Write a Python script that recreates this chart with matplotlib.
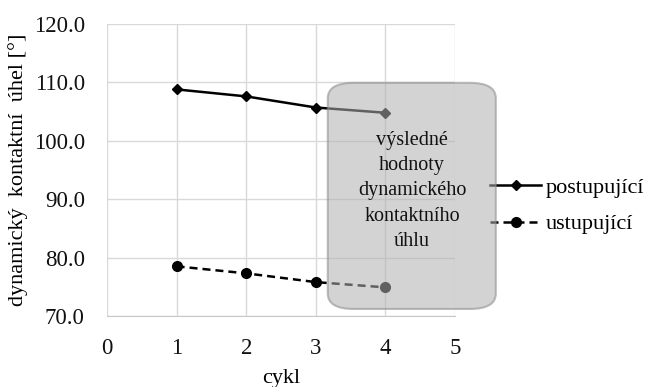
import matplotlib.pyplot as plt
from matplotlib.patches import FancyBboxPatch

plt.rcParams['font.family'] = ['Liberation Serif', 'DejaVu Serif']

cykl = [1, 2, 3, 4]
postupujici = [108.8, 107.6, 105.7, 104.8]
ustupujici = [78.5, 77.3, 75.8, 74.9]
x_ticks = [0, 1, 2, 3, 4, 5]
y_ticks = [70, 80, 90, 100, 110, 120]
popisek = "výsledné\nhodnoty\ndynamického\nkontaktního\núhlu"

fig = plt.figure(figsize=(6.49, 3.87), dpi=100)
ax = fig.add_axes([0.1649, 0.1835, 0.5362, 0.7545])

ax.plot(cykl, postupujici, color='black', lw=1.8, marker='D', markersize=5.5,
        label='postupující')
ax.plot(cykl, ustupujici, color='black', lw=1.8, dashes=(3.2, 2), marker='o',
        markersize=7, label='ustupující')

ax.set_xlim(0, 5)
ax.set_ylim(70, 120)
ax.set_xticks(x_ticks)
ax.set_yticks(y_ticks)
ax.set_yticklabels([f"{v:.1f}" for v in y_ticks])
ax.grid(True, color='#d9d9d9', lw=1)
ax.set_axisbelow(True)
for s in ['top', 'right', 'left']:
    ax.spines[s].set_visible(False)
ax.spines['bottom'].set_color('#c8c8c8')
ax.tick_params(length=0, labelsize=16.5, pad=16, colors='#111111')
ax.tick_params(axis='y', pad=16)

ax.set_xlabel('cykl', fontsize=16, labelpad=7)
ax.set_ylabel('dynamický  kontaktní  úhel [°]', fontsize=16, labelpad=4)

ax.legend(loc='center left', bbox_to_anchor=(490 / 649, 1 - 206 / 387),
          bbox_transform=fig.transFigure, frameon=False, fontsize=16,
          handlelength=2.3, handletextpad=0.2, borderpad=0, borderaxespad=0,
          labelspacing=0.7)

# poloprůhledný rámeček s popiskem
box = FancyBboxPatch((0.505, 0.2016), 0.259, 0.5844,
                     boxstyle='round,pad=0,rounding_size=0.04',
                     transform=fig.transFigure, facecolor='#b0b0b0', alpha=0.55,
                     edgecolor='#8a8a8a', lw=1.5, zorder=6)
fig.patches.append(box)
fig.text(0.635, 1 - 191 / 387, popisek, ha='center', va='center',
         fontsize=14.5, linespacing=1.45, color='#111111', zorder=7)

fig.savefig('out.png', dpi=100)
